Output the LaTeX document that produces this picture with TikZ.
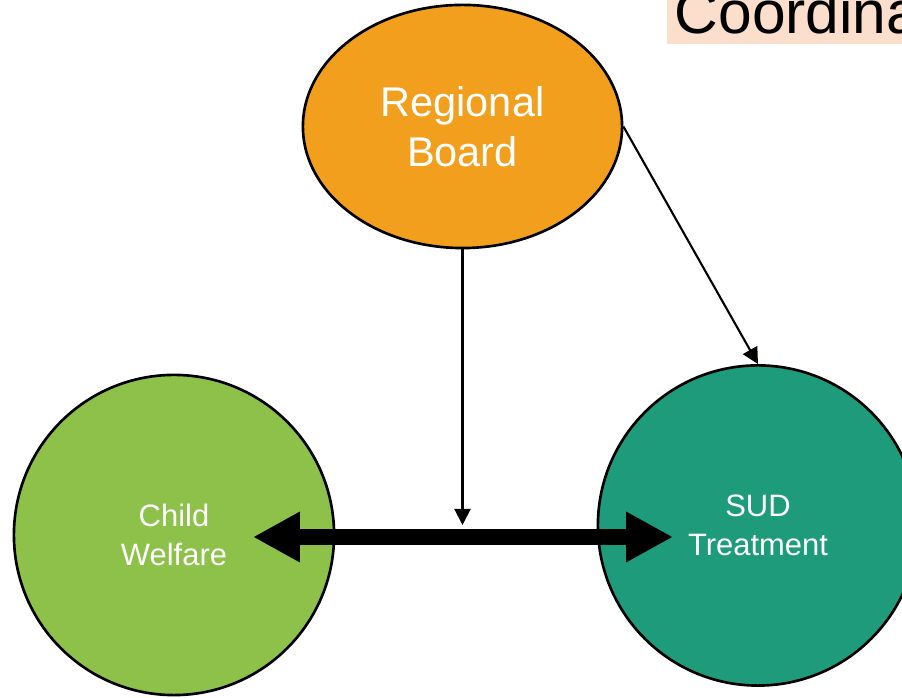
\documentclass[tikz,border=0pt]{standalone}
\usepackage{fontspec}
\setmainfont{Liberation Sans}
\usetikzlibrary{shapes.geometric,arrows.meta}
\definecolor{boardorange}{HTML}{F29F1E}
\definecolor{welfaregreen}{HTML}{8DC14A}
\definecolor{sudteal}{HTML}{1E9B7A}
\definecolor{titlepeach}{HTML}{FBDECC}
\begin{document}
\begin{tikzpicture}[x=0.01cm, y=-0.01cm,
	agency/.style={circle, draw=black, line width=0.75pt, minimum size=3.2cm, inner sep=0pt, text=white, align=center, font=\fontsize{8.8}{11.2}\selectfont},
	link/.style={-{Triangle[length=4.6pt, width=4.6pt]}, line width=0.6pt}]
	\useasboundingbox (0, 0) rectangle (902, 698);
	\clip (0, 0) rectangle (902, 698);
	\fill[titlepeach] (667, -5) rectangle (905, 44);
	\node[anchor=base west, inner sep=0pt, font=\fontsize{17.2}{20}\selectfont] (title) at (674, 34) {Coordina};
	\node[ellipse, draw=black, line width=0.75pt, fill=boardorange, minimum width=3.19cm, minimum height=2.43cm, inner sep=0pt, text=white, align=center, font=\fontsize{11.8}{14.2}\selectfont] (board) at (462.5, 126.5) {Regional\\Board};
	\node[agency, fill=welfaregreen] (welfare) at (174, 535) {Child\\Welfare};
	\node[agency, fill=sudteal] (sud) at (758, 525.5) {SUD\\Treatment};
	\coordinate (board drop) at (462.5, 525);
	\coordinate (welfare tip) at (253, 537);
	\coordinate (sud tip) at (673, 537);
	\draw[link] (board.south) -- (board drop);
	\draw[link] (board.east) -- (sud.north);
	\draw[line width=4.8pt, {Triangle[length=13.3pt, width=13.4pt]}-{Triangle[length=13.3pt, width=13.4pt]}] (welfare tip) -- (sud tip);
\end{tikzpicture}
\end{document}
